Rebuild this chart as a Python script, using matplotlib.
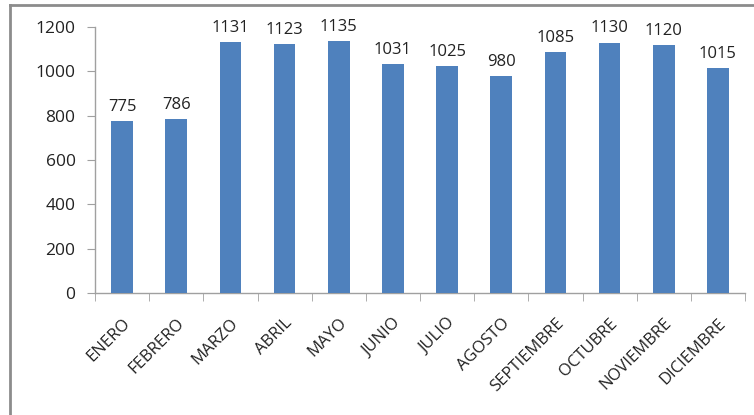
import matplotlib
matplotlib.use("Agg")
import matplotlib.pyplot as plt
from matplotlib.lines import Line2D
import numpy as np

months = ["ENERO", "FEBRERO", "MARZO", "ABRIL", "MAYO", "JUNIO", "JULIO",
          "AGOSTO", "SEPTIEMBRE", "OCTUBRE", "NOVIEMBRE", "DICIEMBRE"]
values = [775, 786, 1131, 1123, 1135, 1031, 1025, 980, 1085, 1130, 1120, 1015]
yticks = [0, 200, 400, 600, 800, 1000, 1200]

plt.rcParams['font.family'] = ['Open Sans', 'DejaVu Sans']

W, H = 754, 415
fig = plt.figure(figsize=(W/100, H/100), dpi=100)
ax = fig.add_axes([95/W, 1-293/H, (745-95)/W, (293-27)/H])

x = np.arange(len(months))
bars = ax.bar(x, values, width=0.4, color="#4F81BD", zorder=3)
for xi, v in zip(x, values):
    ax.text(xi, v + 28, str(v), ha="center", va="bottom", fontsize=12, color="#222222")

ax.set_xlim(-0.5, len(months) - 0.5)
ax.set_ylim(0, 1200)
ax.set_yticks(yticks)
ax.set_yticklabels([str(t) for t in yticks], fontsize=12.5)
ax.set_xticks(x)
ax.set_xticklabels(months, rotation=45, ha="right", rotation_mode="anchor", fontsize=12)
ax.tick_params(axis="x", length=0, pad=16, labelcolor="#222222")
ax.set_xticks(np.arange(-0.5, len(months), 1), minor=True)
ax.tick_params(axis="x", which="minor", length=6, color="#A0A0A0")
ax.tick_params(axis="y", length=6, color="#A0A0A0", pad=8, labelcolor="#222222")

for s in ["top", "right"]:
    ax.spines[s].set_visible(False)
for s in ["left", "bottom"]:
    ax.spines[s].set_color("#A0A0A0")
    ax.spines[s].set_linewidth(1)

# outer chart border
fig.add_artist(Line2D([10/W, 10/W], [0, 1-5/H], color="#8C8C8C", lw=2, transform=fig.transFigure))
fig.add_artist(Line2D([10/W, 1], [1-5/H, 1-5/H], color="#8C8C8C", lw=2, transform=fig.transFigure))

fig.savefig("out.png", dpi=100)
